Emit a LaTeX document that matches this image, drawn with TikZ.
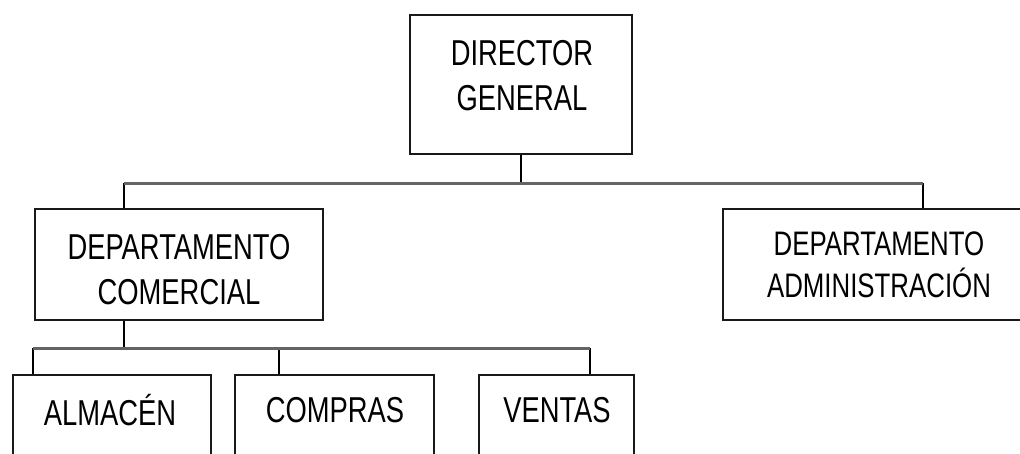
\documentclass[tikz,border=0pt]{standalone}
\usepackage{fontspec}
\newfontfamily\orgfont[FakeStretch=0.76]{Liberation Sans}
\definecolor{bargray}{RGB}{100,100,100}
\tikzset{
  box/.style={draw=black!90, line width=1.5pt, rectangle, inner sep=0pt},
  txt/.style={align=center, inner sep=0pt, font={\orgfont\fontsize{36}{45}\selectfont}},
  txtsmall/.style={align=center, inner sep=0pt, font={\orgfont\fontsize{34}{42}\selectfont}},
  bar/.style={draw=bargray, line width=3pt},
  conn/.style={draw=black, line width=1.2pt}
}
\begin{document}
\begin{tikzpicture}[x=1pt, y=-1pt]
\useasboundingbox (0,0) rectangle (1020,453);
\clip (0,0) rectangle (1020,453);
\fill[white] (0,0) rectangle (1020,453);
% boxes
\node[box, minimum width=222pt, minimum height=139pt] (dg) at (521,84.5) {};
\node[box, minimum width=288pt, minimum height=111pt] (dc) at (179,264.5) {};
\node[box, minimum width=302pt, minimum height=111pt] (da) at (874,264.5) {};
\node[box, minimum width=198pt, minimum height=100pt] (alm) at (112,425) {};
\node[box, minimum width=199pt, minimum height=100pt] (com) at (334.5,425) {};
\node[box, minimum width=155pt, minimum height=100pt] (ven) at (556.5,425) {};
% texts
\node[txt] (tdg) at (522,76) {DIRECTOR\\GENERAL};
\node[txt] (tdc) at (179,270) {DEPARTAMENTO\\COMERCIAL};
\node[txtsmall] (tda) at (879,265) {DEPARTAMENTO\\ADMINISTRACIÓN};
\node[txt] (talm) at (110,410) {ALMACÉN};
\node[txt] (tcom) at (335,410) {COMPRAS};
\node[txt] (tven) at (557,410) {VENTAS};
% connector points
\coordinate (b1l) at (124,183);
\coordinate (b1r) at (923,183);
\coordinate (b2l) at (33,348);
\coordinate (b2m) at (279,348);
\coordinate (b2r) at (590,348);
% connectors
\draw[conn] (dg.south) -- (dg.south |- b1l);
\draw[conn] (b1l) -- (b1l |- dc.north);
\draw[conn] (b1r) -- (b1r |- da.north);
\draw[conn] (b1l |- dc.south) -- (b1l |- b2l);
\draw[conn] (b2l) -- (b2l |- alm.north);
\draw[conn] (b2m) -- (b2m |- com.north);
\draw[conn] (b2r) -- (b2r |- ven.north);
\draw[bar] (b1l) -- (b1r);
\draw[bar] (b2l) -- (b2r);
\end{tikzpicture}
\end{document}
